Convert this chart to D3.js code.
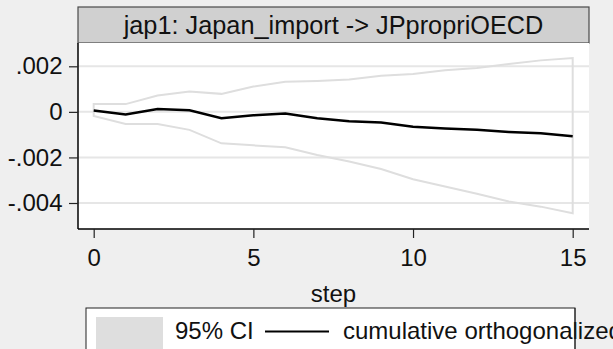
<!DOCTYPE html>
<html><head><meta charset="utf-8">
<script src="https://cdn.jsdelivr.net/npm/d3@7"></script>
<style>
html,body{margin:0;padding:0;background:#efefef;}
svg{display:block;font-family:"Liberation Sans",Arial,sans-serif;}
</style></head>
<body>
<svg id="c" width="613" height="349"></svg>
<script>
const steps = [0,1,2,3,4,5,6,7,8,9,10,11,12,13,14,15];
const coirf = [0.00006,-0.00012,0.00013,0.00007,-0.00028,-0.00015,-0.00007,-0.00028,-0.00041,-0.00047,-0.00065,-0.00073,-0.00079,-0.00088,-0.00094,-0.00107];
const upper = [0.00034,0.00034,0.00072,0.00089,0.00079,0.00111,0.00132,0.00136,0.00142,0.00158,0.00166,0.00183,0.00193,0.0021,0.00226,0.00236];
const lower = [-0.00018,-0.00053,-0.00053,-0.00079,-0.00138,-0.00147,-0.00155,-0.00189,-0.00218,-0.00251,-0.00296,-0.00328,-0.00359,-0.00393,-0.00416,-0.00445];
const xTicks = [0,5,10,15];
const yTicks = [0.002,0,-0.002,-0.004];
const yTickLabels = [".002","0","-.002","-.004"];
const panelTitle = "jap1: Japan_import -> JPpropriOECD";
const xTitle = "step";
const legendLabels = ["95% CI","cumulative orthogonalized irf"];

const svg = d3.select("#c");
const plotL = 78, plotR = 589, plotT = 43, plotB = 229;
const FS = 24;
const x = d3.scaleLinear().domain([0,15]).range([93.7,572.7]);
const y = d3.scaleLinear().domain([-0.004,0.002]).range([203,66.3]);

// title strip
svg.append("rect").attr("x",plotL).attr("y",7).attr("width",plotR-plotL).attr("height",plotT-7)
  .attr("fill","#d0d0d0").attr("stroke","#4a4a4a").attr("stroke-width",1.2);
svg.append("text").attr("x",(plotL+plotR)/2).attr("y",33.5).attr("text-anchor","middle")
  .attr("font-size",25.3).attr("fill","#111").text(panelTitle);

// plot area
svg.append("rect").attr("x",plotL).attr("y",plotT).attr("width",plotR-plotL).attr("height",plotB-plotT).attr("fill","#fff");

// gridlines
svg.append("g").selectAll("line").data(yTicks).join("line")
  .attr("x1",plotL).attr("x2",plotR).attr("y1",d=>y(d)).attr("y2",d=>y(d))
  .attr("stroke","#e6e6e6").attr("stroke-width",2);

// CI outline
const ciPts = steps.map((s,i)=>[x(s),y(upper[i])]).concat(steps.slice().reverse().map((s,j)=>{const i=steps.length-1-j;return [x(s),y(lower[i])];}));
svg.append("path").attr("d",d3.line()(ciPts)+"Z").attr("fill","none").attr("stroke","#dedede").attr("stroke-width",2);

// irf line
svg.append("path").datum(steps.map((s,i)=>[x(s),y(coirf[i])])).attr("d",d3.line())
  .attr("fill","none").attr("stroke","#000").attr("stroke-width",2.5);

// axes
const xAxis = d3.axisBottom(x).tickValues(xTicks).tickSize(9).tickPadding(11).tickFormat(d3.format("d"));
const gx = svg.append("g").attr("transform",`translate(0,${plotB})`).call(xAxis);
gx.select(".domain").attr("d",`M${plotL},0H${plotR}`).attr("stroke","#000").attr("stroke-width",1.5);
gx.selectAll(".tick line").attr("stroke","#222").attr("stroke-width",1.2);
gx.selectAll(".tick text").attr("font-size",FS).attr("fill","#111").attr("font-family","Liberation Sans, Arial, sans-serif");

const yAxis = d3.axisLeft(y).tickValues(yTicks).tickSize(9).tickPadding(6.5).tickFormat((d,i)=>yTickLabels[i]);
const gy = svg.append("g").attr("transform",`translate(${plotL},0)`).call(yAxis);
gy.select(".domain").attr("d",`M0,${plotT}V${plotB}`).attr("stroke","#000").attr("stroke-width",1.5);
gy.selectAll(".tick line").attr("stroke","#222").attr("stroke-width",1.2);
gy.selectAll(".tick text").attr("font-size",FS).attr("fill","#111").attr("font-family","Liberation Sans, Arial, sans-serif");

svg.append("text").attr("x",(plotL+plotR)/2).attr("y",302).attr("text-anchor","middle")
  .attr("font-size",FS).attr("fill","#111").text(xTitle);

// legend
svg.append("rect").attr("x",86).attr("y",308).attr("width",489).attr("height",60)
  .attr("fill","#fff").attr("stroke","#222").attr("stroke-width",1);
svg.append("rect").attr("x",96).attr("y",317).attr("width",67).attr("height",40).attr("fill","#dedede");
svg.append("text").attr("x",175).attr("y",339).attr("font-size",FS).attr("fill","#111").text(legendLabels[0]);
svg.append("line").attr("x1",265).attr("x2",329).attr("y1",331.5).attr("y2",331.5).attr("stroke","#000").attr("stroke-width",2);
svg.append("text").attr("x",343).attr("y",339).attr("font-size",FS).attr("fill","#111").text(legendLabels[1]);
// legend border drawn over the overflowing text
svg.append("line").attr("x1",575).attr("x2",575).attr("y1",308).attr("y2",349).attr("stroke","#222").attr("stroke-width",1);
</script>
</body></html>
